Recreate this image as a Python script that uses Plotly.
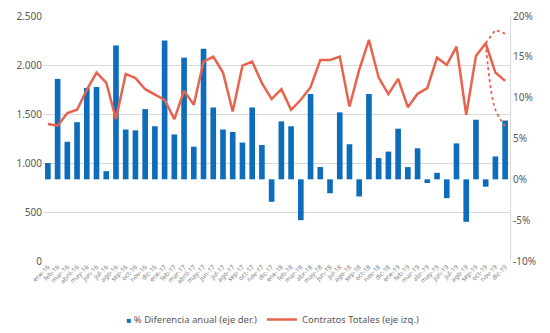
import plotly.graph_objects as go

months = ["ene-16", "feb-16", "mar-16", "abril-16", "may-16", "jun-16", "jul-16", "ago-16",
          "sep-16", "oct-16", "nov-16", "dic-16", "ene-17", "feb-17", "mar-17", "abril-17",
          "may-17", "jun-17", "jul-17", "ago-17", "sep-17", "oct-17", "nov-17", "dic-17",
          "ene-18", "feb-18", "mar-18", "abr-18", "may-18", "jun-18", "jul-18", "ago-18",
          "sep-18", "oct-18", "nov-18", "dic-18", "ene-19", "feb-19", "mar-19", "abr-19",
          "may-19", "jun-19", "jul-19", "ago-19", "sep-19", "oct-19", "nov-19", "dic-19"]

pct_diff = [2.0, 12.3, 4.6, 7.0, 11.2, 11.3, 1.0, 16.4,
            6.1, 6.0, 8.6, 6.5, 17.0, 5.5, 14.9, 4.0,
            16.0, 8.8, 6.1, 5.8, 4.5, 8.8, 4.2, -2.75,
            7.1, 6.5, -5.0, 10.45, 1.5, -1.7, 8.2, 4.3,
            -2.1, 10.45, 2.6, 3.4, 6.2, 1.5, 3.8, -0.45,
            0.8, -2.3, 4.4, -5.2, 7.3, -0.9, 2.8, 7.2]

contracts = [1397, 1380, 1509, 1543, 1746, 1923, 1821, 1448,
             1909, 1866, 1753, 1696, 1645, 1448, 1736, 1594,
             2035, 2086, 1923, 1526, 1994, 2035, 1815, 1652,
             1753, 1543, 1645, 1774, 2052, 2052, 2086, 1576,
             1950, 2256, 1872, 1703, 1858, 1570, 1706, 1764,
             2075, 2001, 2187, 1492, 2093, 2222, 1923, 1838]

upper_band = [None] * 45 + [2222, 2357, 2320]
lower_band = [None] * 45 + [2222, 1543, 1380]

left_ticks = [0, 500, 1000, 1500, 2000, 2500]
left_labels = ["0", "500", "1.000", "1.500", "2.000", "2.500"]
right_ticks = [-10, -5, 0, 5, 10, 15, 20]
right_labels = ["-10%", "-5%", "0%", "5%", "10%", "15%", "20%"]

BLUE = "#0E6DBA"
RED = "#E8634D"
FONT = "Noto Sans"

bar_name = "% Diferencia anual (eje der.)"
line_name = "Contratos Totales (eje izq.)"

fig = go.Figure()
fig.add_trace(go.Bar(x=months, y=pct_diff, name=bar_name,
                     marker=dict(color=BLUE, line=dict(width=0)), yaxis="y",
                     showlegend=False, legendgroup="bars"))
# legend entry: small blue square glyph right before the text, as in the reference
fig.add_trace(go.Scatter(x=[months[0]], y=[None], mode="markers",
                         name=f"<span style='color:{BLUE};font-size:8px'>■</span> {bar_name}",
                         marker=dict(color="rgba(0,0,0,0)", size=1,
                                     line=dict(width=0, color="rgba(0,0,0,0)")),
                         yaxis="y", legendgroup="bars"))
fig.add_trace(go.Scatter(x=months, y=contracts, name=line_name,
                         mode="lines", line=dict(color=RED, width=2.5), yaxis="y2"))
fig.add_trace(go.Scatter(x=months, y=upper_band, mode="lines", showlegend=False,
                         line=dict(color=RED, width=1.8, dash="dot"), yaxis="y2"))
fig.add_trace(go.Scatter(x=months, y=lower_band, mode="lines", showlegend=False,
                         line=dict(color=RED, width=1.8, dash="dot", shape="spline"), yaxis="y2"))

fig.update_layout(
    width=550, height=333,
    margin=dict(l=43, r=40, t=16, b=72, autoexpand=False),
    paper_bgcolor="white", plot_bgcolor="white",
    font=dict(family=FONT, color="#595959", size=10),
    bargap=0.42,
    xaxis=dict(type="category", range=[-0.5, 47.5], tickangle=-45, automargin=False,
               tickfont=dict(size=6.5, color="#7F7F7F"), showgrid=False,
               showline=False, ticks="", tickmode="array", tickvals=months, ticktext=months),
    yaxis=dict(side="right", range=[-10, 20], tickvals=right_ticks, ticktext=right_labels,
               showgrid=False, zeroline=False, showline=True, linecolor="#D9D9D9",
               linewidth=1, tickfont=dict(size=10, color="#595959"), ticks="", automargin=False),
    yaxis2=dict(side="left", overlaying="y", range=[0, 2500], tickvals=left_ticks,
                ticktext=left_labels, showgrid=True, gridcolor="#D9D9D9", gridwidth=1,
                zeroline=False, showline=False, tickfont=dict(size=10, color="#595959"),
                ticks="", automargin=False),
    legend=dict(orientation="h", x=0.455, xanchor="center", y=-0.18, yanchor="top",
                font=dict(size=9.5, color="#595959"), traceorder="normal"),
)

fig.write_html("out.html")
